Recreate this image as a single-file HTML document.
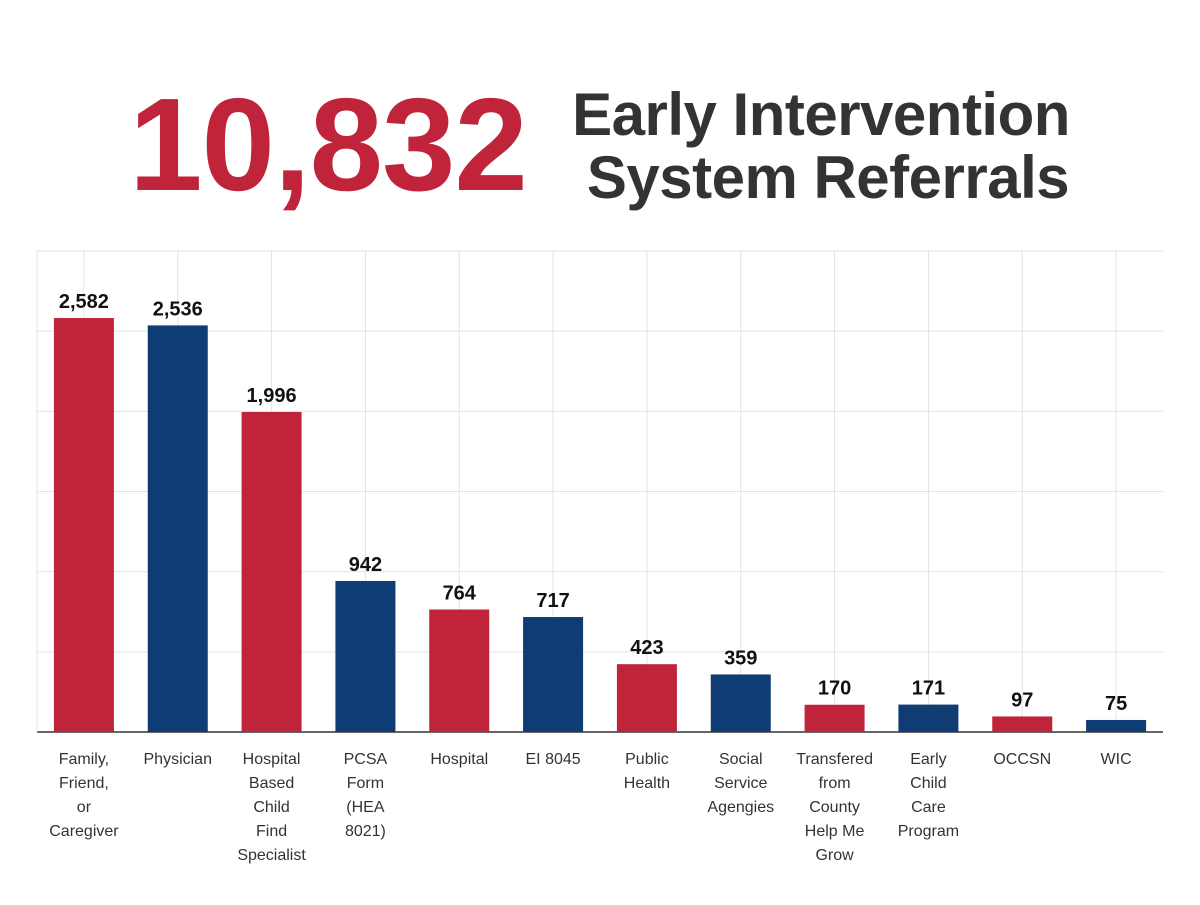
<!DOCTYPE html>
<html><head><meta charset="utf-8">
<style>
html,body{margin:0;padding:0;background:#fff;}
body{width:1200px;height:900px;overflow:hidden;font-family:"Liberation Sans",sans-serif;}
</style></head>
<body>
<svg id="chart" width="1200" height="900">
  <text x="328" y="190" text-anchor="middle" font-family="Liberation Sans, sans-serif" font-weight="bold" font-size="132" fill="#C0243A" letter-spacing="-1">10,832</text>
  <text x="821" y="135" text-anchor="middle" font-family="Liberation Sans, sans-serif" font-weight="bold" font-size="60" fill="#333" letter-spacing="-0.5">Early Intervention</text>
  <text x="828" y="198" text-anchor="middle" font-family="Liberation Sans, sans-serif" font-weight="bold" font-size="60" fill="#333" letter-spacing="-0.5">System Referrals</text>
  <g id="grid"></g>
  <g id="bars"></g>
  <g id="labels"></g>
</svg>
<script>
const categories = [["Family,","Friend,","or","Caregiver"],["Physician"],["Hospital","Based","Child","Find","Specialist"],["PCSA","Form","(HEA","8021)"],["Hospital"],["EI 8045"],["Public","Health"],["Social","Service","Agengies"],["Transfered","from","County","Help Me","Grow"],["Early","Child","Care","Program"],["OCCSN"],["WIC"]];
const values = [2582,2536,1996,942,764,717,423,359,170,171,97,75];
const valueLabels = ["2,582","2,536","1,996","942","764","717","423","359","170","171","97","75"];
const yTicks = [0,500,1000,1500,2000,2500,3000];
const colors = ["#C0243A","#0F3D73"];

const NS="http://www.w3.org/2000/svg";
const x0=37,x1=1163,yBase=732,yTop=251,yMax=3000;
const band=(x1-x0)/categories.length;
const xc=i=>x0+band*(i+0.5);
const y=v=>yBase-(v/yMax)*(yBase-yTop);
function mk(tag,attrs,parent){const e=document.createElementNS(NS,tag);for(const k in attrs)e.setAttribute(k,attrs[k]);parent.appendChild(e);return e;}
const grid=document.getElementById('grid'),bars=document.getElementById('bars'),labels=document.getElementById('labels');
yTicks.forEach((t,i)=>{
  const l=mk('line',{x1:x0,x2:x1,y1:y(t),y2:y(t),stroke:t===0?'#333':'#e3e3e3','stroke-width':t===0?1.5:1},grid);
  
  
});
mk('line',{x1:x0,x2:x0,y1:yTop,y2:yBase,stroke:'#e3e3e3'},grid);
categories.forEach((c,i)=>{
  const v=mk('line',{x1:xc(i),x2:xc(i),y1:yTop,y2:yBase,stroke:'#e3e3e3'},grid);
  
  
  const r=mk('rect',{x:xc(i)-30,width:60,y:y(values[i]),height:yBase-y(values[i]),fill:colors[i%2]},bars);
  
  
  const t=mk('text',{x:xc(i),y:y(values[i])-10,'text-anchor':'middle','font-weight':'bold','font-size':20,fill:'#111'},labels);
  t.textContent=valueLabels[i];
  
  
  c.forEach((line,j)=>{
    const tl=mk('text',{x:xc(i),y:764+j*24,'text-anchor':'middle','font-size':16,fill:'#333'},labels);
    tl.textContent=line;
    
    
  });
});
</script>
</body></html>
